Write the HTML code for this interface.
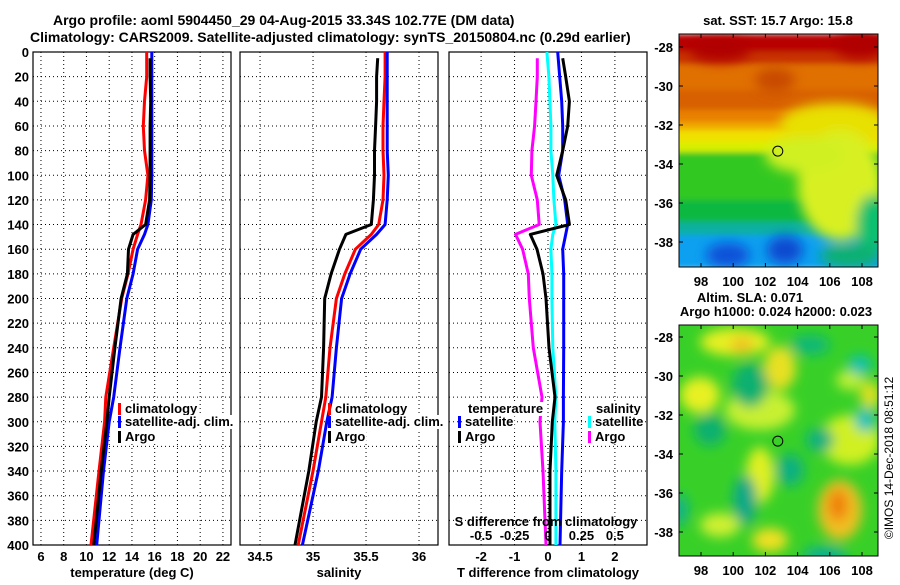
<!DOCTYPE html>
<html><head><meta charset="utf-8">
<style>
html,body{margin:0;padding:0;background:#fff;}
svg text{font-family:"Liberation Sans",sans-serif;font-weight:bold;fill:#000;}
</style></head>
<body>
<svg id="chart" width="900" height="580" viewBox="0 0 900 580" xmlns="http://www.w3.org/2000/svg">
<defs>
<filter id="blur4" x="-50%" y="-50%" width="200%" height="200%"><feGaussianBlur stdDeviation="6"/></filter>
<filter id="blur2" x="-50%" y="-50%" width="200%" height="200%"><feGaussianBlur stdDeviation="3"/></filter>
<clipPath id="clipTop"><rect x="679" y="34" width="199" height="233"/></clipPath>
<clipPath id="clipBot"><rect x="679" y="325" width="199" height="231"/></clipPath>
</defs>
<text x="53" y="25" font-size="14">Argo profile: aoml 5904450_29 04-Aug-2015 33.34S 102.77E (DM data)</text>
<text x="30" y="42" font-size="14">Climatology: CARS2009. Satellite-adjusted climatology: synTS_20150804.nc (0.29d earlier)</text>
<g id="panels"></g>
<g id="maps"></g>
<text font-size="12" transform="translate(893,458) rotate(-90)" text-anchor="middle" style="font-weight:normal">©IMOS 14-Dec-2018 08:51:12</text>
</svg>
<script>
// ---- data ----
const depths = [0,20,40,60,80,100,120,140,148,160,180,200,240,280,300,340,400];
const argoDepths = [5,20,40,60,80,100,120,140,148,160,180,200,240,280,300,340,400];
const tempClim = [15.3,15.3,15.1,15.0,15.1,15.4,15.2,14.8,14.5,14.1,13.65,13.1,12.4,11.7,11.6,11.1,10.4];
const tempSat  = [15.75,15.75,15.75,15.75,15.75,15.75,15.7,15.4,15.1,14.5,14.1,13.55,12.95,12.4,12.0,11.5,10.9];
const tempArgo = [15.6,15.6,15.65,15.6,15.6,15.6,15.55,15.2,14.1,13.7,13.6,13.05,12.5,12.0,11.8,11.3,10.65];
const salClim = [35.68,35.68,35.67,35.66,35.66,35.67,35.66,35.62,35.55,35.4,35.3,35.22,35.16,35.12,35.08,35.0,34.86];
const salSat  = [35.7,35.7,35.7,35.7,35.7,35.71,35.7,35.68,35.6,35.45,35.35,35.27,35.22,35.18,35.13,35.05,34.9];
const salArgo = [35.61,35.6,35.6,35.59,35.58,35.58,35.57,35.55,35.31,35.25,35.17,35.11,35.1,35.08,35.03,34.96,34.83];
const tDiffSat  = [0.29,0.35,0.41,0.44,0.44,0.32,0.5,0.59,0.53,0.44,0.47,0.47,0.47,0.46,0.46,0.41,0.36];
const tDiffArgo = [0.44,0.53,0.64,0.59,0.44,0.26,0.53,0.64,-0.53,-0.33,-0.15,-0.06,0.03,0.21,0.13,0.06,0.06];
const sDiffSat  = [-0.008,0.007,0.014,0.022,0.022,0.036,0.044,0.059,0.036,0.022,0.029,0.029,0.036,0.059,0.051,0.059,0.059];
const sDiffArgo = [-0.08,-0.08,-0.09,-0.10,-0.12,-0.125,-0.08,-0.066,-0.243,-0.19,-0.147,-0.14,-0.11,-0.045,-0.06,-0.037,-0.015];
const depthTicks = [0,20,40,60,80,100,120,140,160,180,200,220,240,260,280,300,320,340,360,380,400];
const tempTicks = [6,8,10,12,14,16,18,20,22];
const salTicks = [34.5,35,35.5,36];
const tDiffTicks = [-2,-1,0,1,2];
const sDiffTicks = [-0.5,-0.25,0,0.25,0.5];
const sDiffTickLabels = ["-0.5","-0.25","0","0.25","0.5"];
const latTicks = [-28,-30,-32,-34,-36,-38];
const lonTicks = [98,100,102,104,106,108];

const NS = "http://www.w3.org/2000/svg";
function mk(tag, attrs, parent){const e=document.createElementNS(NS,tag);for(const k in attrs)e.setAttribute(k,attrs[k]);if(parent)parent.appendChild(e);return e;}
const TOP=52, BOT=545;
const yScale = d => TOP + (d/400)*(BOT-TOP);
function xScaleF(x0,x1,v0,v1){return v=>x0+(v-v0)/(v1-v0)*(x1-x0);}

const panelsG = document.getElementById('panels');
function panel(name,x0,x1,v0,v1,ticks,tickLabels,xtitle,showY){
  const g = mk('g',{},panelsG);
  
  
  const xs = xScaleF(x0,x1,v0,v1);
  depthTicks.forEach(d=>{
    if(d===0||d===400) return;
    const l=mk('line',{x1:x0,x2:x1,y1:yScale(d),y2:yScale(d),stroke:'#000','stroke-width':1,'stroke-dasharray':'1,3'},g);
    
    
  });
  ticks.forEach((t,i)=>{
    const x=xs(t);
    const l=mk('line',{x1:x,x2:x,y1:TOP,y2:BOT,stroke:'#000','stroke-width':1,'stroke-dasharray':'1,3'},g);
    
    
    const tx=mk('text',{x:x,y:561,'font-size':13,'text-anchor':'middle'},g);
    tx.textContent=tickLabels[i];
    
    
  });
  if(showY){
    depthTicks.forEach(d=>{
      const tx=mk('text',{x:29,y:yScale(d)+5,'font-size':13,'text-anchor':'end'},g);
      tx.textContent=d;
      
      
    });
  }
  const r=mk('rect',{x:x0,y:TOP,width:x1-x0,height:BOT-TOP,fill:'none',stroke:'#000','stroke-width':1.2},g);
  
  
  const tt=mk('text',{x:(x0+x1)/2,y:577,'font-size':13,'text-anchor':'middle'},g);
  tt.textContent=xtitle;
  
  
  return {g,xs};
}
function series(p,name,ds,vals,color,xs){
  const pts=vals.map((v,i)=>xs(v).toFixed(1)+','+yScale(ds[i]).toFixed(1)).join(' ');
  const pl=mk('polyline',{points:pts,fill:'none',stroke:color,'stroke-width':3,'stroke-linejoin':'round'},p.g);
  
  
}
function legendEntry(g,name,x,y,color,label){
  const gg=mk('g',{},g);
  
  
  const t=mk('text',{x:color?x+4:x,y:y,'font-size':13},gg);
  t.textContent=label;
  const tw = t.getComputedTextLength ? t.getComputedTextLength() : label.length*7.5;
  const bg=mk('rect',{x:(color?x+3:x-1),y:y-11,width:tw+2,height:14,fill:'#fff'});
  gg.insertBefore(bg,t);
  if(color) mk('rect',{x:x-3,y:y-10,width:3,height:12,fill:color},gg);
}

const p1=panel('temperature-panel',33,231,5.3,22.71,tempTicks,tempTicks.map(String),'temperature (deg C)',true);
series(p1,'temp-climatology-line',depths,tempClim,'#ff0000',p1.xs);
series(p1,'temp-satellite-line',depths,tempSat,'#0000ff',p1.xs);
series(p1,'temp-argo-line',argoDepths,tempArgo,'#000',p1.xs);
legendEntry(p1.g,'legend-climatology',121,413,'#ff0000','climatology');
legendEntry(p1.g,'legend-satellite-adj',121,426,'#0000ff','satellite-adj. clim.');
legendEntry(p1.g,'legend-argo',121,441,'#000','Argo');

const p2=panel('salinity-panel',240,438,34.311,36.179,salTicks,salTicks.map(String),'salinity',false);
series(p2,'sal-climatology-line',depths,salClim,'#ff0000',p2.xs);
series(p2,'sal-satellite-line',depths,salSat,'#0000ff',p2.xs);
series(p2,'sal-argo-line',argoDepths,salArgo,'#000',p2.xs);
legendEntry(p2.g,'legend-climatology',331,413,'#ff0000','climatology');
legendEntry(p2.g,'legend-satellite-adj',331,426,'#0000ff','satellite-adj. clim.');
legendEntry(p2.g,'legend-argo',331,441,'#000','Argo');

const p3=panel('difference-panel',449,647,-2.96,2.96,tDiffTicks,tDiffTicks.map(String),'T difference from climatology',false);
const sx=xScaleF(449,647,-0.74,0.74);
series(p3,'s-diff-argo-line',argoDepths,sDiffArgo,'#ff00ff',sx);
series(p3,'s-diff-satellite-line',depths,sDiffSat,'#00ffff',sx);
series(p3,'t-diff-satellite-line',depths,tDiffSat,'#0000ff',p3.xs);
series(p3,'t-diff-argo-line',argoDepths,tDiffArgo,'#000',p3.xs);
legendEntry(p3.g,'legend-temperature-heading',468,413,null,'temperature');
legendEntry(p3.g,'legend-t-satellite',461,426,'#0000ff','satellite');
legendEntry(p3.g,'legend-t-argo',461,441,'#000','Argo');
legendEntry(p3.g,'legend-salinity-heading',596,413,null,'salinity');
legendEntry(p3.g,'legend-s-satellite',591,426,'#00ffff','satellite');
legendEntry(p3.g,'legend-s-argo',591,441,'#ff00ff','Argo');
{
  const t=mk('text',{x:546,y:526,'font-size':13,'text-anchor':'middle'},p3.g);
  t.textContent='S difference from climatology';
  
  
  sDiffTicks.forEach((v,i)=>{
    const tx=mk('text',{x:sx(v),y:540,'font-size':13,'text-anchor':'middle'},p3.g);
    tx.textContent=sDiffTickLabels[i];
    
    
  });
}

// ---- Maps ----
const mapsG=document.getElementById('maps');
const lonX = lon => 701 + (lon-98)*16.1;
function mapAxes(g,top,bottom,lat28y){
  const latY = lat => lat28y + (-28-lat)*19.5;
  latTicks.forEach(l=>{
    const y=latY(l);
    mk('line',{x1:679,x2:683,y1:y,y2:y,stroke:'#000'},g);
    mk('line',{x1:874,x2:878,y1:y,y2:y,stroke:'#000'},g);
    const t=mk('text',{x:673,y:y+5,'font-size':13,'text-anchor':'end'},g);
    t.textContent=l;
    
    
  });
  lonTicks.forEach(l=>{
    const x=lonX(l);
    mk('line',{x1:x,x2:x,y1:top,y2:top+4,stroke:'#000'},g);
    mk('line',{x1:x,x2:x,y1:bottom-4,y2:bottom,stroke:'#000'},g);
    const t=mk('text',{x:x,y:bottom+19,'font-size':13,'text-anchor':'middle'},g);
    t.textContent=l;
    
    
  });
  mk('rect',{x:679,y:top,width:199,height:bottom-top,fill:'none',stroke:'#000','stroke-width':1},g);
  const c=mk('circle',{cx:lonX(102.77),cy:latY(-33.34),r:5,fill:'none',stroke:'#000','stroke-width':1},g);
  
  
}
{
  const g=mk('g',{},mapsG);
  
  
  const img=mk('g',{'clip-path':'url(#clipTop)'},g);
  const bands=[[34,'#b80000'],[52,'#c83000'],[64,'#e07000'],[90,'#d86000'],[110,'#e88000'],[122,'#f0a800'],[130,'#f0e000'],[142,'#d8f000'],[152,'#30c820'],[200,'#10b840'],[222,'#10b0a0'],[235,'#10a0f0'],[267,'#10a0f0']];
  const bl=mk('g',{filter:'url(#blur2)'},img);
  for(let i=0;i<bands.length-1;i++) mk('rect',{x:670,y:bands[i][0],width:220,height:bands[i+1][0]-bands[i][0]+2,fill:bands[i][1]},bl);
  const bb=mk('g',{filter:'url(#blur4)'},img);
  mk('ellipse',{cx:835,cy:125,rx:55,ry:22,fill:'#e8e000'},bb);
  mk('ellipse',{cx:840,cy:185,rx:42,ry:55,fill:'#d8f020'},bb);
  mk('ellipse',{cx:805,cy:155,rx:40,ry:18,fill:'#d0f020'},bb);
  mk('ellipse',{cx:872,cy:225,rx:16,ry:30,fill:'#10c070'},bb);
  mk('ellipse',{cx:728,cy:255,rx:22,ry:12,fill:'#1050d8'},bb);
  mk('ellipse',{cx:785,cy:250,rx:18,ry:14,fill:'#1048d0'},bb);
  mk('ellipse',{cx:850,cy:256,rx:30,ry:12,fill:'#10b070'},bb);
  mk('ellipse',{cx:860,cy:45,rx:25,ry:14,fill:'#b00000'},bb);
  mk('ellipse',{cx:720,cy:50,rx:30,ry:12,fill:'#b00000'},bb);
  mk('ellipse',{cx:775,cy:80,rx:20,ry:12,fill:'#c84800'},bb);
  mapAxes(g,34,267,47);
  const t=mk('text',{x:778,y:25,'font-size':13,'text-anchor':'middle'},g);
  t.textContent='sat. SST: 15.7 Argo: 15.8';
  
  
}
{
  const g=mk('g',{},mapsG);
  
  
  const img=mk('g',{'clip-path':'url(#clipBot)'},g);
  mk('rect',{x:679,y:325,width:199,height:231,fill:'#38d028'},img);
  const bb=mk('g',{filter:'url(#blur4)'},img);
  const blobs=[[735,342,35,14,'#e8f020'],[742,345,12,8,'#f0c020'],[780,368,16,22,'#e8e020'],[700,395,20,18,'#e8f020'],[760,410,35,20,'#c8f030'],[760,475,14,28,'#e0f020'],[840,510,22,30,'#f0c020'],[838,505,10,16,'#f08010'],[850,440,30,25,'#d0f020'],[870,395,10,14,'#e0e020'],[770,540,18,12,'#f0e020'],[850,380,14,10,'#c0f030'],[720,525,20,12,'#d0f030'],
   [750,385,18,22,'#10b070'],[710,430,16,16,'#10b070'],[745,500,12,25,'#10a888'],[790,470,14,16,'#10b080'],[860,365,12,10,'#10c0b0'],[865,420,10,12,'#10c0c0'],[820,440,14,12,'#10b080'],[810,345,20,10,'#10b878'],[680,510,8,16,'#10b090'],[825,556,22,10,'#10b090']];
  blobs.forEach(b=>mk('ellipse',{cx:b[0],cy:b[1],rx:b[2],ry:b[3],fill:b[4]},bb));
  mapAxes(g,325,556,337);
  const t1=mk('text',{x:750,y:302,'font-size':13,'text-anchor':'middle'},g);
  t1.textContent='Altim. SLA: 0.071';
  
  
  const t2=mk('text',{x:776,y:316,'font-size':13,'text-anchor':'middle'},g);
  t2.textContent='Argo h1000: 0.024 h2000: 0.023';
  
  
}
</script>
</body></html>
